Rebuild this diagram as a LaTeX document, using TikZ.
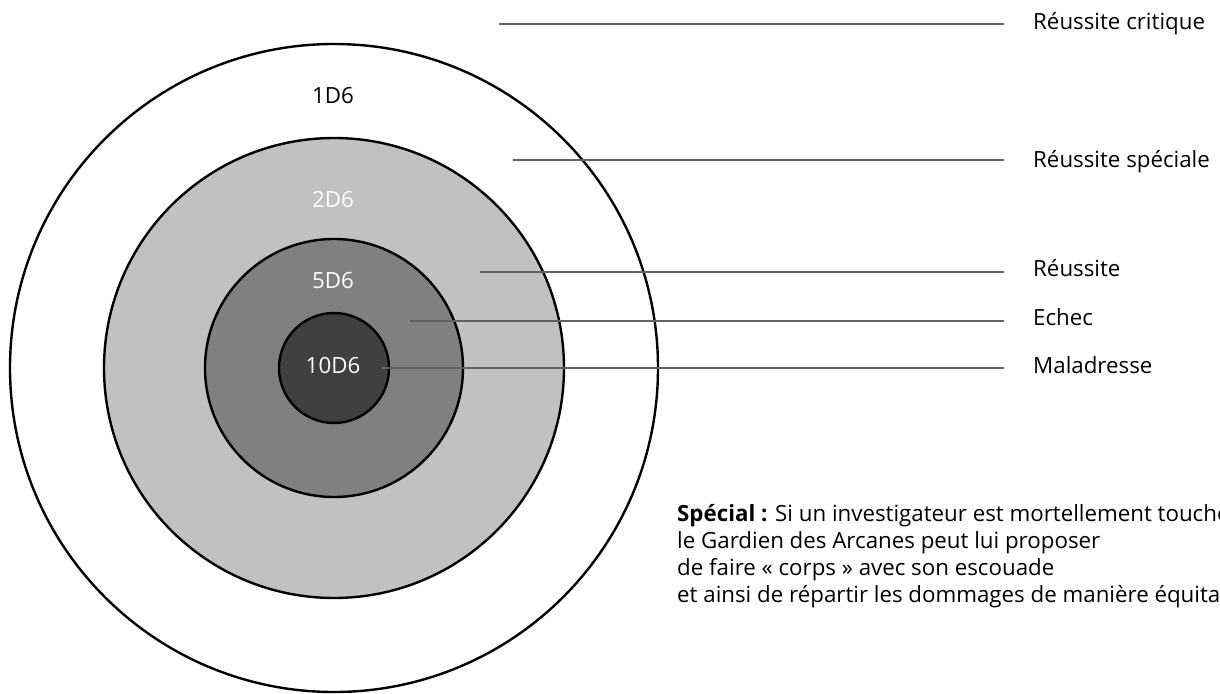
\documentclass[tikz,border=0pt]{standalone}
\usepackage{fontspec}
\setmainfont{Open Sans}
\usepackage{tikz}
\definecolor{ringlight}{HTML}{C1C1C1}
\definecolor{ringmid}{HTML}{808080}
\definecolor{ringdark}{HTML}{404040}
\definecolor{leadgrey}{HTML}{626262}
\newcommand{\labelFont}[0]{\fontsize{22.3}{27}\selectfont}

\begin{document}
\begin{tikzpicture}[x=1pt, y=-1pt]
  \tikzset{ring/.style={circle, draw=black, line width=2.4pt, inner sep=0pt, outer sep=0pt},
           leader/.style={draw=leadgrey, line width=2.4pt, shorten >=29pt},
           outcome/.style={anchor=base west, inner sep=0pt, font=\labelFont},
           dice/.style={inner sep=0pt, font=\labelFont}}
  \useasboundingbox (0,0) rectangle (1220,693);
  \clip (0,0) rectangle (1220,693);
  \node[ring, fill=white, minimum size=648pt] (ring-1) at (334,368) {};
  \node[ring, fill=ringlight, minimum size=460pt] (ring-2) at (ring-1.center) {};
  \node[ring, fill=ringmid, minimum size=258pt] (ring-3) at (ring-1.center) {};
  \node[ring, fill=ringdark, minimum size=110pt] (ring-4) at (ring-1.center) {};
  \node[dice] (D-1) at (333,96) {1D6};
  \node[dice, text=white] (D-2) at (333,200) {2D6};
  \node[dice, text=white] (D-3) at (333,281) {5D6};
  \node[dice, text=white] (D-4) at (333,366) {10D6};
  \node[outcome] (R-1) at (1033,30) {Réussite critique};
  \node[outcome] (R-2) at (1033,167) {Réussite spéciale};
  \node[outcome] (R-3) at (1033,276) {Réussite};
  \node[outcome] (R-4) at (1033,325) {Echec};
  \node[outcome] (R-5) at (1033,373) {Maladresse};
  \coordinate (L-1) at (499,24);
  \coordinate (L-2) at (513,160);
  \coordinate (L-3) at (480,272);
  \coordinate (L-4) at (410,321);
  \coordinate (L-5) at (382,368);
  \draw[leader] (L-1) -- (L-1 -| R-1.west);
  \draw[leader] (L-2) -- (L-2 -| R-2.west);
  \draw[leader] (L-3) -- (L-3 -| R-3.west);
  \draw[leader] (L-4) -- (L-4 -| R-4.west);
  \draw[leader] (L-5) -- (L-5 -| R-5.west);
  \node[outcome, align=left] (special) at (677,602)
    {\textbf{Spécial :} Si un investigateur est mortellement touché,\\
     le Gardien des Arcanes peut lui proposer\\
     de faire «~corps~» avec son escouade\\
     et ainsi de répartir les dommages de manière équitable.};
\end{tikzpicture}
\end{document}
